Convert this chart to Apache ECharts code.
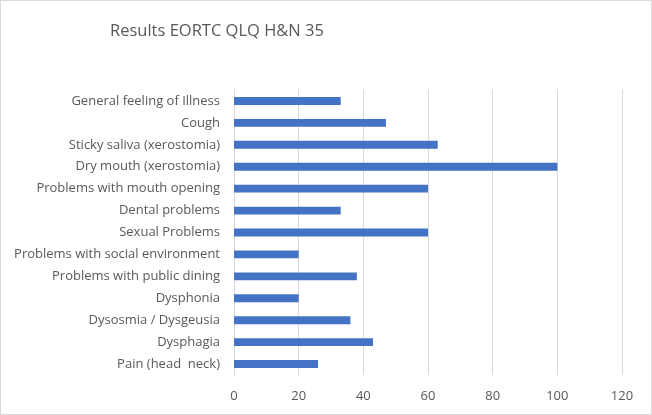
<!DOCTYPE html>
<html>
<head>
<meta charset="utf-8">
<script src="https://cdn.jsdelivr.net/npm/echarts@6/dist/echarts.min.js"></script>
<style>
  html, body { margin: 0; padding: 0; background: #fff; }
  #chart { width: 650px; height: 413px; border: 1px solid #d9d9d9; }
</style>
</head>
<body>
<div id="chart"></div>
<script>
// categories, top to bottom as shown
const categories = [
  'General feeling of Illness',
  'Cough',
  'Sticky saliva (xerostomia)',
  'Dry mouth (xerostomia)',
  'Problems with mouth opening',
  'Dental problems',
  'Sexual Problems',
  'Problems with social environment',
  'Problems with public dining',
  'Dysphonia',
  'Dysosmia / Dysgeusia',
  'Dysphagia',
  'Pain (head  neck)'
]
const scores = [33, 47, 63, 100, 60, 33, 60, 20, 38, 20, 36, 43, 26]

const chart = echarts.init(document.getElementById('chart'))
chart.setOption({
  animation: false,
  title: {
    text: 'Results EORTC QLQ H&N 35',
    left: 104,
    top: 17,
    textStyle: { fontFamily: 'Open Sans', fontWeight: 'normal', fontSize: 16.5, color: '#595959' }
  },
  grid: { left: 233, right: 29, top: 89, bottom: 39 },
  xAxis: {
    type: 'value',
    min: 0,
    max: 120,
    interval: 20,
    axisLine: { show: false },
    axisTick: { show: false },
    splitLine: { lineStyle: { color: '#d9d9d9', width: 1 } },
    axisLabel: { color: '#595959', fontSize: 13, fontFamily: 'Open Sans', margin: 15 }
  },
  yAxis: {
    type: 'category',
    inverse: true,
    data: categories,
    axisLine: { lineStyle: { color: '#d9d9d9' } },
    axisTick: { show: false },
    axisLabel: { color: '#595959', fontSize: 13, fontFamily: 'Open Sans', margin: 14 }
  },
  series: [{
    type: 'bar',
    data: scores,
    barWidth: '36%',
    itemStyle: { color: '#4472c4' }
  }]
})
</script>
</body>
</html>
